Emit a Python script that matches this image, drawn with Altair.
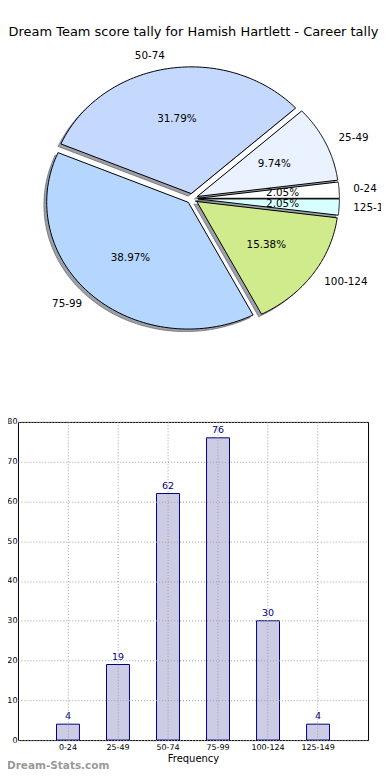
import altair as alt
import pandas as pd

# ---- data ----
categories = ["0-24", "25-49", "50-74", "75-99", "100-124", "125-149"]
counts = [4, 19, 62, 76, 30, 4]
pie_colors = ["#ffffff", "#eaf1ff", "#c5d9ff", "#b5d6ff", "#d0eb8c", "#d8ffff"]
y_ticks = [0, 10, 20, 30, 40, 50, 60, 70, 80]
title_text = "Dream Team score tally for Hamish Hartlett - Career tally"
x_title = "Frequency"
watermark = "Dream-Stats.com"

FONT = "DejaVu Sans"
EXPLODE = 0.04
N = 80

df = pd.DataFrame({"cat": categories, "count": counts,
                   "order": list(range(len(categories)))})

xs = alt.Scale(domain=[-1.2301, 1.3338], nice=False, zero=False)
ys = alt.Scale(domain=[-1.211, 1.488], nice=False, zero=False)

base = (
    alt.Chart(df)
    .transform_joinaggregate(total="sum(count)")
    .transform_window(cum="sum(count)", sort=[alt.SortField("order")])
    .transform_calculate(
        a0="2*PI*(datum.cum - datum.count)/datum.total",
        a1="2*PI*datum.cum/datum.total",
    )
    .transform_calculate(mid="(datum.a0 + datum.a1)/2")
)

poly = (
    base.transform_calculate(steps=f"sequence(0, {N + 3})")
    .transform_flatten(["steps"], as_=["k"])
    .transform_calculate(ang=f"datum.a0 + (datum.a1 - datum.a0)*(datum.k - 1)/{N}")
    .transform_calculate(r=f"(datum.k == 0 || datum.k == {N + 2}) ? 0 : 1")
    .transform_calculate(
        px=f"{EXPLODE}*cos(datum.mid) + datum.r*cos(datum.ang)",
        py=f"{EXPLODE}*sin(datum.mid) + datum.r*sin(datum.ang)",
    )
)

shadow = (
    poly.transform_calculate(sx="datum.px - 0.02", sy="datum.py - 0.02")
    .mark_line(fill="#3b4250", fillOpacity=0.5, stroke="#3b4250", strokeOpacity=0.5, strokeWidth=1)
    .encode(
        x=alt.X("sx:Q", scale=xs, axis=None),
        y=alt.Y("sy:Q", scale=ys, axis=None),
        detail="cat:N",
        order="k:Q",
    )
)

wedges = poly.mark_line(stroke="black", strokeWidth=1).encode(
    x=alt.X("px:Q", scale=xs, axis=None),
    y=alt.Y("py:Q", scale=ys, axis=None),
    fill=alt.Fill("cat:N", scale=alt.Scale(domain=categories, range=pie_colors), legend=None),
    order="k:Q",
)

lab = base.transform_calculate(
    lx=f"{EXPLODE + 1.1}*cos(datum.mid)",
    ly=f"{EXPLODE + 1.1}*sin(datum.mid)",
)
lab_right = lab.transform_filter("cos(datum.mid) > 0").mark_text(
    align="left", baseline="middle", font=FONT, fontSize=10.4, color="black", clip=True
).encode(x=alt.X("lx:Q", scale=xs, axis=None), y=alt.Y("ly:Q", scale=ys, axis=None), text="cat:N")
lab_left = lab.transform_filter("cos(datum.mid) <= 0").mark_text(
    align="right", baseline="middle", font=FONT, fontSize=10.4, color="black"
).encode(x=alt.X("lx:Q", scale=xs, axis=None), y=alt.Y("ly:Q", scale=ys, axis=None), text="cat:N")

pct = base.transform_calculate(
    tx=f"{EXPLODE + 0.6}*cos(datum.mid)",
    ty=f"{EXPLODE + 0.6}*sin(datum.mid)",
    pct="format(datum.count/datum.total, '.2%')",
).mark_text(align="center", baseline="middle", font=FONT, fontSize=10.4, color="black").encode(
    x=alt.X("tx:Q", scale=xs, axis=None), y=alt.Y("ty:Q", scale=ys, axis=None), text="pct:N"
)

title = alt.Chart(pd.DataFrame({"t": [title_text]})).mark_text(
    align="center", baseline="middle", font=FONT, fontSize=13, color="black"
).encode(x=alt.value(176), y=alt.value(22), text="t:N")

pie = alt.layer(shadow, wedges, lab_right, lab_left, pct, title).properties(
    width=364, height=343, view=alt.ViewBackground(stroke="transparent")
)

# ---- bar chart ----
x_enc = alt.X(
    "cat:N",
    sort=categories,
    scale=alt.Scale(paddingInner=0.541, paddingOuter=0.77),
    axis=alt.Axis(
        labelAngle=0, grid=True, bandPosition=0.5, gridDash=[1, 2], gridColor="#a0a0a0",
        ticks=False, domain=False, labelFont=FONT, labelFontSize=8, labelColor="black",
        labelPadding=3, title=x_title, titleFont=FONT, titleFontSize=10,
        titleFontWeight="normal", titleColor="black", titlePadding=2, zindex=1,
    ),
)
y_enc = alt.Y(
    "count:Q",
    scale=alt.Scale(domain=[0, 80], nice=False),
    axis=alt.Axis(
        values=y_ticks, grid=True, gridDash=[1, 2], gridColor="#a0a0a0", ticks=False,
        domain=False, labelFont=FONT, labelFontSize=8, labelColor="black", labelPadding=1,
        labelOverlap=False, title=None, zindex=1,
    ),
)

bars = alt.Chart(df).mark_bar(fill="#ccccE5", stroke="#000080", strokeWidth=1).encode(x=x_enc, y=y_enc)
vals = alt.Chart(df).mark_text(
    baseline="bottom", dy=-3, color="#000080", font=FONT, fontSize=9.5
).encode(x=x_enc, y=y_enc, text="count:Q")
wm = alt.Chart(pd.DataFrame({"t": [watermark]})).mark_text(
    align="left", baseline="middle", font=FONT, fontSize=10.5, fontWeight="bold", color="#999999"
).encode(x=alt.value(-11), y=alt.value(345), text="t:N")

bar = alt.layer(bars, vals, wm).properties(
    width=351, height=319, view=alt.ViewBackground(stroke="black", strokeWidth=1)
)

chart = alt.vconcat(pie, bar, spacing=70, bounds="flush").properties(
    padding={"left": -2, "top": 0, "right": 0, "bottom": 0}
)

chart.save("out.html", embed_options={"renderer": "svg", "actions": False})
